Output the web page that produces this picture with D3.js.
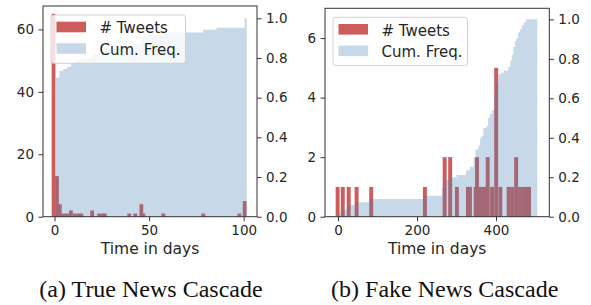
<!DOCTYPE html>
<html>
<head>
<meta charset="utf-8">
<script src="https://cdn.jsdelivr.net/npm/d3@7"></script>
<style>
  body { margin: 0; background: #fff; }
  svg { display: block; }
  .tick text { font-family: "DejaVu Sans", sans-serif; font-size: 13.5px; fill: #262626; }
  .tick line { stroke: #333; }
  .domain { display: none; }
</style>
</head>
<body>
<svg id="fig" width="591" height="305"></svg>
<script>
/* global d3 */
// ---- data ----
// (a) true news: tweets per day (bar centre, count), bars are 2 days wide
var trueDays   = [-0.5, 1.3, 2.8, 4.6, 6.6, 8.7, 10.8, 12.8, 14.2, 19.9, 23.6, 25.6, 26.6, 39.5, 42.7, 45.9, 47.0, 57.5, 78.6, 97.7, 100.5];
var trueTweets = [65, 13, 4, 1, 1, 2, 1, 1, 1, 2, 1, 1, 1, 1, 1, 4, 1, 1, 1, 1, 5];
// cumulative frequency steps (step start day, value); last pair closes the area
var trueCumDays = [0.8, 2.6, 4.6, 6.6, 8.7, 10.8, 12.8, 14.2, 19.9, 23.6, 25.6, 26.6, 39.5, 42.7, 45.9, 47.0, 57.5, 78.6, 85.7, 100.5, 101.6];
var trueCumFreq = [0.70, 0.735, 0.745, 0.755, 0.775, 0.785, 0.79, 0.80, 0.82, 0.83, 0.84, 0.85, 0.86, 0.87, 0.905, 0.915, 0.928, 0.942, 0.952, 1.0, 1.0];

// (b) fake news: bars are 10 days wide
var fakeDays   = [-1, 12, 27, 47, 84, 220, 270, 284, 301, 329, 334,
                  348.5, 352, 362, 372, 379, 390, 400.5, 411,
                  432, 441, 451, 461, 471, 480, 483.6];
var fakeTweets = [1, 1, 1, 1, 1, 1, 2, 2, 1, 1, 1,
                  1, 2, 1, 1, 2, 1, 5, 1,
                  1, 1, 2, 1, 1, 1, 1];
var fakeCumDays = [0, 6, 12, 22, 30, 47, 79, 216, 263, 270, 283, 300, 324, 334, 343, 348, 355, 360, 364, 368, 376, 380, 385, 390, 396, 400, 406, 412, 420, 431, 436, 440, 444, 448, 452, 456, 461, 465, 470, 476, 504.6];
var fakeCumFreq = [0.01, 0.025, 0.035, 0.054, 0.06, 0.073, 0.09, 0.106, 0.145, 0.186, 0.2, 0.211, 0.236, 0.253, 0.3, 0.34, 0.36, 0.40, 0.41, 0.45, 0.46, 0.5, 0.52, 0.54, 0.6, 0.68, 0.72, 0.73, 0.74, 0.76, 0.79, 0.82, 0.86, 0.89, 0.905, 0.935, 0.95, 0.97, 0.985, 1.0, 1.0];

var trueXTicks = [0, 50, 100], trueYTicks = [0, 20, 40, 60];
var fakeXTicks = [0, 200, 400], fakeYTicks = [0, 2, 4, 6];
var freqTicks = [0, 0.2, 0.4, 0.6, 0.8, 1.0];
var legendLabels = ["# Tweets", "Cum. Freq."];
var xLabel = "Time in days";
var captions = ["(a) True News Cascade", "(b) Fake News Cascade"];

var svg = d3.select("#fig");
var red = "#cd5c5c", blue = "steelblue";

var panels = [
  { left: 43, right: 257, top: 6, bottom: 216.7, xDom: [-6.08, 107.03], yMax: 67.5, fMax: 1.062,
    days: trueDays, tweets: trueTweets, barW: 2, cumDays: trueCumDays, cumFreq: trueCumFreq,
    xTicks: trueXTicks, yTicks: trueYTicks, caption: captions[0], capX: 151 },
  { left: 325, right: 549.3, top: 8.3, bottom: 216.7, xDom: [-33, 535], yMax: 7.0, fMax: 1.056,
    days: fakeDays, tweets: fakeTweets, barW: 10, cumDays: fakeCumDays, cumFreq: fakeCumFreq,
    xTicks: fakeXTicks, yTicks: fakeYTicks, caption: captions[1], capX: 444.7 }
];

panels.forEach(drawPanel);

function drawPanel(p) {
  var x = d3.scaleLinear().domain(p.xDom).range([p.left, p.right]);
  var y = d3.scaleLinear().domain([0, p.yMax]).range([p.bottom, p.top]);
  var f = d3.scaleLinear().domain([0, p.fMax]).range([p.bottom, p.top]);
  var g = svg.append("g");

  // tweet bars
  g.selectAll("rect.bar").data(p.days).enter().append("rect")
    .attr("class", "bar")
    .attr("x", function (d) { return x(d - p.barW / 2); })
    .attr("width", function (d) { return x(d + p.barW / 2) - x(d - p.barW / 2); })
    .attr("y", function (d, i) { return y(p.tweets[i]); })
    .attr("height", function (d, i) { return y(0) - y(p.tweets[i]); })
    .attr("fill", red);

  // cumulative frequency as step area
  var pts = p.cumDays.map(function (d, i) { return [d, p.cumFreq[i]]; });
  var area = d3.area().curve(d3.curveStepAfter)
    .x(function (d) { return x(d[0]); })
    .y0(f(0))
    .y1(function (d) { return f(d[1]); });
  g.append("path").datum(pts).attr("d", area)
    .attr("fill", blue).attr("fill-opacity", 0.3);

  // axes
  g.append("g").attr("transform", "translate(" + p.left + ",0)")
    .call(d3.axisLeft(y).tickValues(p.yTicks).tickSize(4.5).tickPadding(4.5).tickFormat(d3.format("d")));
  g.append("g").attr("transform", "translate(" + p.right + ",0)")
    .call(d3.axisRight(f).tickValues(freqTicks).tickSize(4.5).tickPadding(4.5).tickFormat(d3.format(".1f")));
  g.append("g").attr("transform", "translate(0," + p.bottom + ")")
    .call(d3.axisBottom(x).tickValues(p.xTicks).tickSize(4.5).tickPadding(4).tickFormat(d3.format("d")));

  // spines
  g.append("rect")
    .attr("x", p.left).attr("y", p.top)
    .attr("width", p.right - p.left).attr("height", p.bottom - p.top)
    .attr("fill", "none").attr("stroke", "#333").attr("stroke-width", 1);

  // legend
  var lx = p.left + 8, ly = p.top + 9;
  var leg = g.append("g");
  var box = leg.append("rect")
    .attr("x", lx).attr("y", ly).attr("height", 48.3).attr("rx", 3)
    .attr("fill", "#fff").attr("fill-opacity", 0.8)
    .attr("stroke", "#d0d0d0").attr("stroke-width", 1);
  var textEnd = 0;
  legendLabels.forEach(function (lab, i) {
    var yy = ly + 6.7 + i * 21.5;
    leg.append("rect").attr("x", lx + 5.5).attr("y", yy).attr("width", 29.5).attr("height", 10.6)
      .attr("fill", i === 0 ? red : blue).attr("fill-opacity", i === 0 ? 1 : 0.3);
    var t = leg.append("text").attr("x", lx + 48.5).attr("y", yy + 11.5)
      .attr("font-family", "DejaVu Sans, sans-serif").attr("font-size", 15)
      .attr("fill", "#262626").text(lab);
    textEnd = Math.max(textEnd, t.node().getComputedTextLength());
  });
  box.attr("width", 48.5 + textEnd + 5);

  // x label
  g.append("text").attr("x", (p.left + p.right) / 2).attr("y", 254)
    .attr("text-anchor", "middle")
    .attr("font-family", "DejaVu Sans, sans-serif").attr("font-size", 15.5)
    .attr("fill", "#262626").text(xLabel);

  // caption
  g.append("text").attr("x", p.capX).attr("y", 296.7)
    .attr("text-anchor", "middle")
    .attr("font-family", "Liberation Serif, Times New Roman, serif").attr("font-size", 24)
    .attr("fill", "#111").text(p.caption);
}
</script>
</body>
</html>
